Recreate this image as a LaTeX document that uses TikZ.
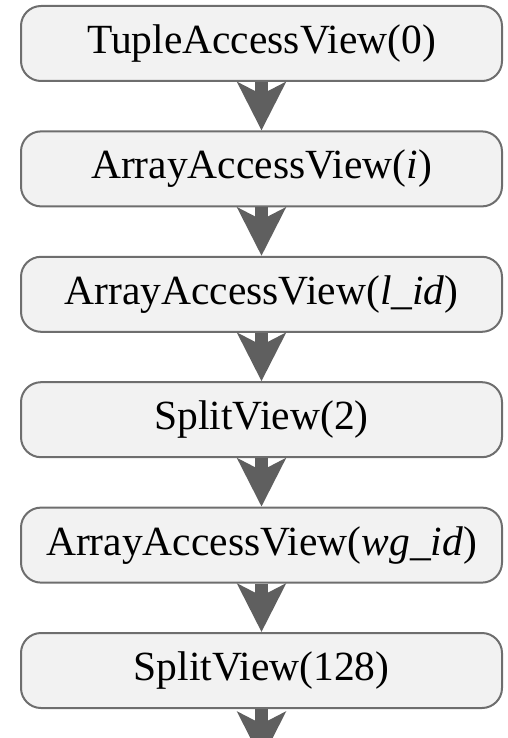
\documentclass[tikz,border=0pt]{standalone}
\usepackage{fontspec}
\setmainfont{Liberation Serif}
\usetikzlibrary{arrows.meta}
\definecolor{boxfill}{HTML}{F2F2F2}
\definecolor{boxline}{HTML}{6E6E6E}
\definecolor{arrowgray}{HTML}{5F5F5F}
\begin{document}
\begin{tikzpicture}[x=1pt,y=-1pt,
  viewbox/.style={draw=boxline, fill=boxfill, line width=2pt, rounded corners=20pt,
    minimum width=481pt, minimum height=75pt, inner sep=0pt,
    font=\fontsize{41.5}{45}\selectfont},
  flow/.style={draw=arrowgray, line width=13pt,
    -{Stealth[length=48pt, width=48pt, inset=12pt, fill=arrowgray]}}]
\useasboundingbox (0,0) rectangle (507,738);
\clip (0,0) rectangle (507,738);
\node[viewbox] (n1) at (261.5,43.5) {TupleAccessView(0)};
\node[viewbox] (n2) at (261.5,168.9) {ArrayAccessView(\textit{i})};
\node[viewbox] (n3) at (261.5,294.3) {ArrayAccessView(\textit{l\_id})};
\node[viewbox] (n4) at (261.5,419.7) {SplitView(2)};
\node[viewbox] (n5) at (261.5,545.1) {ArrayAccessView(\textit{wg\_id})};
\node[viewbox] (n6) at (261.5,670.5) {SplitView(128)};
\coordinate (end) at (261.5,760);
\draw[flow] (n1.south) -- (n2.north);
\draw[flow] (n2.south) -- (n3.north);
\draw[flow] (n3.south) -- (n4.north);
\draw[flow] (n4.south) -- (n5.north);
\draw[flow] (n5.south) -- (n6.north);
\draw[flow] (n6.south) -- (end);
\end{tikzpicture}
\end{document}
